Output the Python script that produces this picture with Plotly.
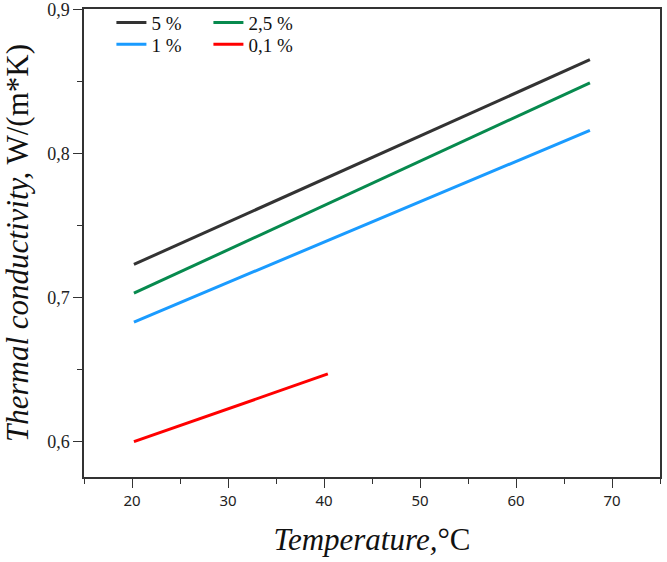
import plotly.graph_objects as go

# Data (Temperature °C, thermal conductivity W/(m*K))
labels = ["5 %", "2,5 %", "1 %", "0,1 %"]
colors = ["#333333", "#078a4e", "#1a9bff", "#ff0000"]
temp_5 = [20.2, 67.7]
k_5 = [0.723, 0.865]
temp_25 = [20.2, 67.7]
k_25 = [0.703, 0.849]
temp_1 = [20.2, 67.7]
k_1 = [0.683, 0.816]
temp_01 = [20.2, 40.4]
k_01 = [0.600, 0.647]

xs = [temp_5, temp_25, temp_1, temp_01]
ys = [k_5, k_25, k_1, k_01]
legend_ids = ["legend", "legend2", "legend3", "legend4"]

x_ticks = [20, 30, 40, 50, 60, 70]
y_ticks = [0.6, 0.7, 0.8, 0.9]

fig = go.Figure()
for lab, col, x, y, lg in zip(labels, colors, xs, ys, legend_ids):
    fig.add_trace(go.Scatter(x=x, y=y, mode="lines", name=lab, showlegend=True,
                             line=dict(color=col, width=3), legend=lg))

serif = "Liberation Serif"
axis_common = dict(showline=True, linecolor="#333333", linewidth=1.5, mirror=True,
                   ticks="outside", ticklen=9, tickwidth=1.2, tickcolor="#333333",
                   showgrid=False, zeroline=False, automargin=False,
                   ticklabeloverflow="allow")

leg_font = dict(family=serif, size=19, color="#111111")
def leg(x, y):
    return dict(x=x, y=y, xanchor="left", yanchor="middle", bgcolor="rgba(0,0,0,0)",
                font=leg_font)

fig.update_layout(
    width=667, height=562,
    showlegend=True,
    margin=dict(l=84, r=7, t=9, b=85, autoexpand=False),
    paper_bgcolor="white", plot_bgcolor="white",
    separators=",.",
    xaxis=dict(range=[15, 75], tickvals=x_ticks,
               minor=dict(ticks="outside", ticklen=5, tickwidth=1.2, tickcolor="#333333", dtick=5),
               tickfont=dict(family="Noto Sans", size=15, color="#222222"),
               title=dict(text="<i>Temperature,</i>°C", font=dict(family=serif, size=31, color="#111111"),
                          standoff=20),
               **axis_common),
    yaxis=dict(range=[0.5755, 0.9002], tickvals=y_ticks, tickformat=".1f",
               minor=dict(ticks="outside", ticklen=5, tickwidth=1.2, tickcolor="#333333", dtick=0.05),
               tickfont=dict(family=serif, size=18, color="#222222"),
               title=dict(text="<i>Thermal conductivity,</i> W/(m*K)", font=dict(family=serif, size=31, color="#111111"),
                          standoff=10),
               **axis_common),
    legend=leg(0.0476, 0.9707),
    legend2=leg(0.216, 0.9707),
    legend3=leg(0.0476, 0.9246),
    legend4=leg(0.216, 0.9246),
)

fig.write_html("out.html", config={"displayModeBar": False},
               post_script="document.body.style.margin='0';")
